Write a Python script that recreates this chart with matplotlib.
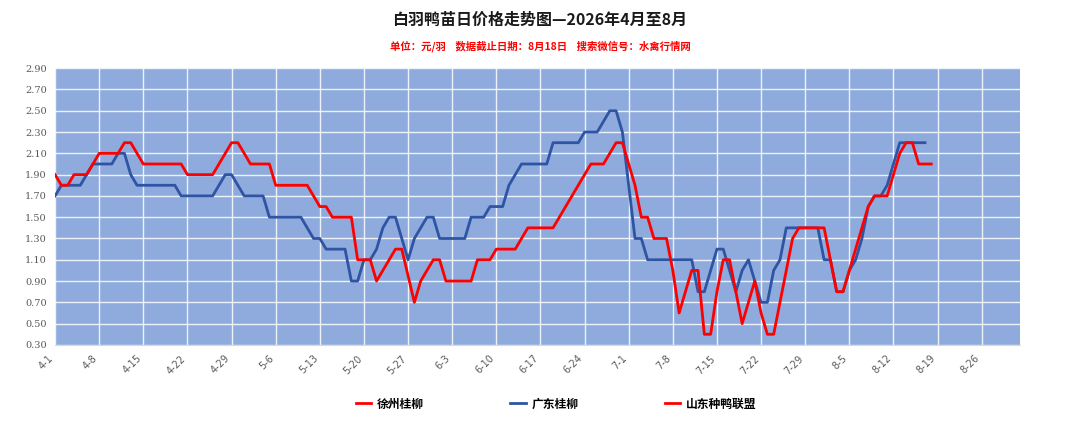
import datetime as dt

import matplotlib
matplotlib.use('Agg')
import matplotlib.pyplot as plt

plt.rcParams['font.family'] = ['Noto Sans CJK SC', 'DejaVu Sans']

# Daily prices (yuan per chick), starting 4-1.
xuzhou = [1.9, 1.8, 1.8, 1.9, 1.9, 1.9, 2.0, 2.1, 2.1, 2.1,
          2.1, 2.2, 2.2, 2.1, 2.0, 2.0, 2.0, 2.0, 2.0, 2.0,
          2.0, 1.9, 1.9, 1.9, 1.9, 1.9, 2.0, 2.1, 2.2, 2.2,
          2.1, 2.0, 2.0, 2.0, 2.0, 1.8, 1.8, 1.8, 1.8, 1.8,
          1.8, 1.7, 1.6, 1.6, 1.5, 1.5, 1.5, 1.5, 1.1, 1.1,
          1.1, 0.9, 1.0, 1.1, 1.2, 1.2, 0.95, 0.7, 0.9, 1.0,
          1.1, 1.1, 0.9, 0.9, 0.9, 0.9, 0.9, 1.1, 1.1, 1.1,
          1.2, 1.2, 1.2, 1.2, 1.3, 1.4, 1.4, 1.4, 1.4, 1.4,
          1.5, 1.6, 1.7, 1.8, 1.9, 2.0, 2.0, 2.0, 2.1, 2.2,
          2.2, 2.0, 1.8, 1.5, 1.5, 1.3, 1.3, 1.3, 1.0, 0.6,
          0.8, 1.0, 1.0, 0.4, 0.4, 0.8, 1.1, 1.1, 0.8, 0.5,
          0.7, 0.9, 0.6, 0.4, 0.4, 0.7, 1.0, 1.3, 1.4, 1.4,
          1.4, 1.4, 1.4, 1.1, 0.8, 0.8, 1.0, 1.2, 1.4, 1.6,
          1.7, 1.7, 1.7, 1.9, 2.1, 2.2, 2.2, 2.0, 2.0, 2.0]

guangdong = [1.7, 1.8, 1.8, 1.8, 1.8, 1.9, 2.0, 2.0, 2.0, 2.0,
             2.1, 2.1, 1.9, 1.8, 1.8, 1.8, 1.8, 1.8, 1.8, 1.8,
             1.7, 1.7, 1.7, 1.7, 1.7, 1.7, 1.8, 1.9, 1.9, 1.8,
             1.7, 1.7, 1.7, 1.7, 1.5, 1.5, 1.5, 1.5, 1.5, 1.5,
             1.4, 1.3, 1.3, 1.2, 1.2, 1.2, 1.2, 0.9, 0.9, 1.1,
             1.1, 1.2, 1.4, 1.5, 1.5, 1.3, 1.1, 1.3, 1.4, 1.5,
             1.5, 1.3, 1.3, 1.3, 1.3, 1.3, 1.5, 1.5, 1.5, 1.6,
             1.6, 1.6, 1.8, 1.9, 2.0, 2.0, 2.0, 2.0, 2.0, 2.2,
             2.2, 2.2, 2.2, 2.2, 2.3, 2.3, 2.3, 2.4, 2.5, 2.5,
             2.3, 1.8, 1.3, 1.3, 1.1, 1.1, 1.1, 1.1, 1.1, 1.1,
             1.1, 1.1, 0.8, 0.8, 1.0, 1.2, 1.2, 1.0, 0.8, 1.0,
             1.1, 0.9, 0.7, 0.7, 1.0, 1.1, 1.4, 1.4, 1.4, 1.4,
             1.4, 1.4, 1.1, 1.1, 0.8, 0.8, 1.0, 1.1, 1.3, 1.6,
             1.7, 1.7, 1.8, 2.0, 2.2, 2.2, 2.2, 2.2, 2.2]

shandong = []  # no values shown for this series

series_names = ['徐州桂柳', '广东桂柳', '山东种鸭联盟']
series_colors = ['#FF0000', '#2E54A3', '#FF0000']

start = dt.date(2026, 4, 1)
tick_days = list(range(0, 148, 7))
tick_labels = []
for d in tick_days:
    day = start + dt.timedelta(days=d)
    tick_labels.append(f'{day.month}-{day.day}')

y_ticks = [round(0.3 + 0.2 * i, 2) for i in range(14)]

fig = plt.figure(figsize=(10.8, 4.29), dpi=100)
ax = fig.add_axes([0.051, 0.196, 0.893, 0.645])
ax.set_facecolor('#8FAADC')

lines = []
for vals, name, col in zip([xuzhou, guangdong, shandong], series_names, series_colors):
    ln, = ax.plot(range(len(vals)), vals, color=col, lw=2, label=name,
                  solid_joinstyle='round', zorder=3)
    lines.append(ln)
# red line is drawn on top of the blue one
lines[0].set_zorder(4)

ax.set_xlim(0, 153)
ax.set_ylim(0.3, 2.9)
ax.set_xticks(tick_days)
ax.set_xticklabels(tick_labels, rotation=45, ha='right', fontsize=7,
                   color='#595959', family='DejaVu Sans')
ax.set_yticks(y_ticks)
ax.set_yticklabels([f'{v:.2f}' for v in y_ticks], fontsize=7,
                   color='#595959', family='DejaVu Serif')
ax.tick_params(length=0, pad=6)
ax.grid(True, color='white', lw=1, alpha=0.85)
ax.set_axisbelow(True)
for s in ax.spines.values():
    s.set_visible(False)
ax.spines['bottom'].set_visible(True)
ax.spines['bottom'].set_color('#D9D9D9')

fig.text(0.5, 0.955, '白羽鸭苗日价格走势图—2026年4月至8月', ha='center', va='center',
         fontsize=11.5, fontweight='bold', color='#1A1A1A')
fig.text(0.5, 0.893, '单位：元/羽    数据截止日期：8月18日    搜索微信号：水禽行情网',
         ha='center', va='center', fontsize=7.5, fontweight='bold', color='#FF0000')

leg = fig.legend(handles=lines, loc='center', bbox_to_anchor=(0.515, 0.058), ncol=3,
                 frameon=False, columnspacing=7.3, handlelength=1.3, handletextpad=0.5,
                 prop={'family': ['Noto Sans CJK SC', 'DejaVu Sans'], 'weight': 'bold', 'size': 8.5})

fig.savefig('out.png', dpi=100)
